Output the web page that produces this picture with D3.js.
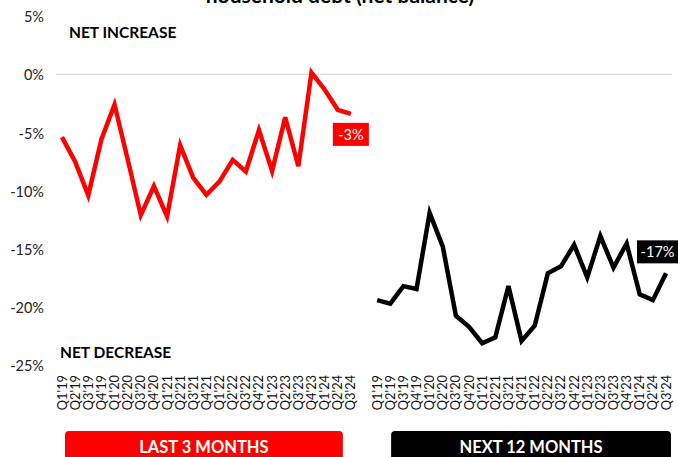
<!DOCTYPE html>
<html>
<head>
<meta charset="utf-8">
<script src="https://cdn.jsdelivr.net/npm/d3@7"></script>
<style>
  body { margin: 0; background: #fff; }
  svg { display: block; font-family: Lato, "Open Sans", sans-serif; }
</style>
</head>
<body>
<div id="chart"></div>
<script>
// quarters shown under each panel
const quarters = ["Q1'19", "Q2'19", "Q3'19", "Q4'19", "Q1'20", "Q2'20", "Q3'20", "Q4'20",
  "Q1'21", "Q2'21", "Q3'21", "Q4'21", "Q1'22", "Q2'22", "Q3'22", "Q4'22",
  "Q1'23", "Q2'23", "Q3'23", "Q4'23", "Q1'24", "Q2'24", "Q3'24"];

// net balance, %
const last3Months = [-5.4, -7.5, -10.4, -5.6, -2.6, -7.3, -12.1, -9.6, -12.2, -6.1, -8.9, -10.35,
  -9.2, -7.35, -8.35, -4.8, -8.3, -3.7, -7.9, 0.15, -1.3, -3.05, -3.4];
const next12Months = [-19.4, -19.7, -18.2, -18.45, -11.9, -14.8, -20.75, -21.7, -23.1, -22.6, -18.2,
  -22.9, -21.6, -17.1, -16.5, -14.65, -17.45, -13.9, -16.6, -14.55, -18.9, -19.4, -17.1];

const yTicks = [5, 0, -5, -10, -15, -20, -25];
const panelNames = ["LAST 3 MONTHS", "NEXT 12 MONTHS"];
const endLabels = ["-3%", "-17%"];

const width = 678, height = 457;

const svg = d3.select('#chart').append('svg')
  .attr('width', width)
  .attr('height', height);

// one categorical axis: left panel, an empty slot, right panel
const keys = quarters.map((q, i) => 'L' + i)
  .concat(['gap'])
  .concat(quarters.map((q, i) => 'R' + i));

const x = d3.scalePoint().domain(keys).range([62, 666]);
const y = d3.scaleLinear().domain([-25, 5]).range([365.3, 16.1]);

// title (cut off at the top of the picture, as in the source)
svg.append('text')
  .attr('x', 340)
  .attr('y', 3)
  .attr('text-anchor', 'middle')
  .attr('font-size', 21)
  .attr('font-weight', 'bold')
  .attr('fill', '#000')
  .text('household debt (net balance)');

// zero line
svg.append('line')
  .attr('x1', 56)
  .attr('x2', 672)
  .attr('y1', y(0))
  .attr('y2', y(0))
  .attr('stroke', '#d9d9d9')
  .attr('stroke-width', 1.3);

// y labels
svg.append('g')
  .selectAll('text')
  .data(yTicks)
  .join('text')
  .attr('x', 44)
  .attr('y', d => y(d) + 1)
  .attr('dy', '0.35em')
  .attr('text-anchor', 'end')
  .attr('font-size', 14.5)
  .attr('fill', '#222')
  .text(d => d + '%');

// x labels, rotated
svg.append('g')
  .selectAll('text')
  .data(keys.filter(k => k !== 'gap'))
  .join('text')
  .attr('transform', d => `translate(${x(d) + 4.5}, 375) rotate(-90)`)
  .attr('text-anchor', 'end')
  .attr('font-size', 12.8)
  .attr('fill', '#111')
  .text(d => quarters[+d.slice(1)]);

svg.append('text')
  .attr('x', 69)
  .attr('y', 38)
  .attr('font-size', 15.5)
  .attr('font-weight', 'bold')
  .text('NET INCREASE');

svg.append('text')
  .attr('x', 60)
  .attr('y', 358)
  .attr('font-size', 15.5)
  .attr('font-weight', 'bold')
  .text('NET DECREASE');

const line = d3.line()
  .x(d => x(d.key))
  .y(d => y(d.value));

const series = [
  { prefix: 'L', values: last3Months, color: '#ff0000' },
  { prefix: 'R', values: next12Months, color: '#000000' },
];

series.forEach((s, si) => {
  const pts = s.values.map((v, i) => ({ key: s.prefix + i, value: v }));

  svg.append('path')
    .datum(pts)
    .attr('d', line)
    .attr('fill', 'none')
    .attr('stroke', s.color)
    .attr('stroke-width', 4.5)
    .attr('stroke-linejoin', 'miter');

  // end value label
  const last = pts[pts.length - 1];
  const cx = si === 0 ? x(last.key) : x(last.key) - 8.5;
  const cy = si === 0 ? y(last.value) + 20.5 : y(last.value) - 21.5;
  const w = si === 0 ? 36 : 41;
  const g = svg.append('g');
  g.append('rect')
    .attr('x', cx - w / 2)
    .attr('y', cy - 11.5)
    .attr('width', w)
    .attr('height', 23)
    .attr('fill', s.color);
  g.append('text')
    .attr('x', cx)
    .attr('y', cy)
    .attr('dy', '0.36em')
    .attr('text-anchor', 'middle')
    .attr('font-size', 14.5)
    .attr('fill', '#fff')
    .text(endLabels[si]);

  // panel name box
  const x0 = si === 0 ? x(s.prefix + 0) + 3 : x(s.prefix + 0) + 14;
  const x1 = si === 0 ? x(last.key) - 8 : x(last.key) + 5;
  svg.append('rect')
    .attr('x', x0)
    .attr('y', 431)
    .attr('width', x1 - x0)
    .attr('height', 40)
    .attr('rx', 4)
    .attr('fill', s.color);
  svg.append('text')
    .attr('x', (x0 + x1) / 2)
    .attr('y', 452.5)
    .attr('text-anchor', 'middle')
    .attr('font-size', 16.5)
    .attr('font-weight', 'bold')
    .attr('fill', '#fff')
    .text(panelNames[si]);
});
</script>
</body>
</html>
